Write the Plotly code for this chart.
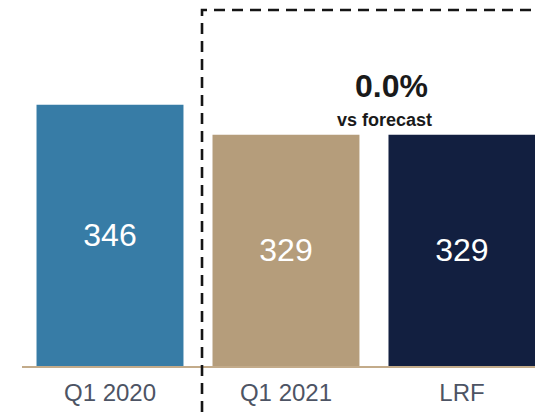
import plotly.graph_objects as go

# data
categories = ['Q1 2020', 'Q1 2021', 'LRF']
values = [346, 329, 329]
bar_colors = ['#377ca6', '#b59d7b', '#121f40']
delta_label = '0.0%'
delta_caption = 'vs forecast'

AXIS_FLOOR = 198
AXIS_TOP = 405.4
FONT = 'Arial, Liberation Sans, sans-serif'

fig = go.Figure()

fig.add_trace(go.Bar(
    x=categories,
    y=[v - AXIS_FLOOR for v in values],
    base=AXIS_FLOOR,
    marker_color=bar_colors,
    marker_line_width=0,
    text=[str(v) for v in values],
    textposition='inside',
    insidetextanchor='middle',
    textfont=dict(color='white', size=32, family=FONT),
    hoverinfo='skip',
))

# dashed box around the current year / forecast
fig.add_shape(
    type='rect', xref='paper', yref='paper',
    x0=0.3509, x1=1.2, y0=-0.3, y1=0.9727,
    line=dict(color='#151515', width=2.6, dash='11px,7px'),
    fillcolor='rgba(0,0,0,0)',
)

fig.add_annotation(
    x=0.7212, y=0.765, xref='paper', yref='paper',
    xanchor='center', yanchor='middle',
    text='<b>' + delta_label + '</b>', showarrow=False,
    font=dict(size=32, color='#1a1a1a', family=FONT),
)
fig.add_annotation(
    x=0.7076, y=0.672, xref='paper', yref='paper',
    xanchor='center', yanchor='middle',
    text='<b>' + delta_caption + '</b>', showarrow=False,
    font=dict(size=18, color='#1a1a1a', family=FONT),
)

fig.update_layout(
    width=535, height=414,
    margin=dict(l=22, r=0, t=0, b=48),
    plot_bgcolor='white', paper_bgcolor='white',
    bargap=0.165,
    showlegend=False,
    font=dict(family=FONT),
)
fig.update_xaxes(
    range=[-0.5, 2.415],
    showline=True, linecolor='#c3ab8a', linewidth=2,
    ticks='outside', ticklen=4, tickcolor='rgba(0,0,0,0)',
    tickfont=dict(size=24, color='#4d5464', family=FONT),
    showgrid=False, zeroline=False,
)
fig.update_yaxes(
    range=[AXIS_FLOOR, AXIS_TOP],
    visible=False, showgrid=False, zeroline=False,
)

# drop the default body margin so the figure fills the window
fig.write_html('out.html', config={'displayModeBar': False},
               post_script="document.body.style.margin='0';")
